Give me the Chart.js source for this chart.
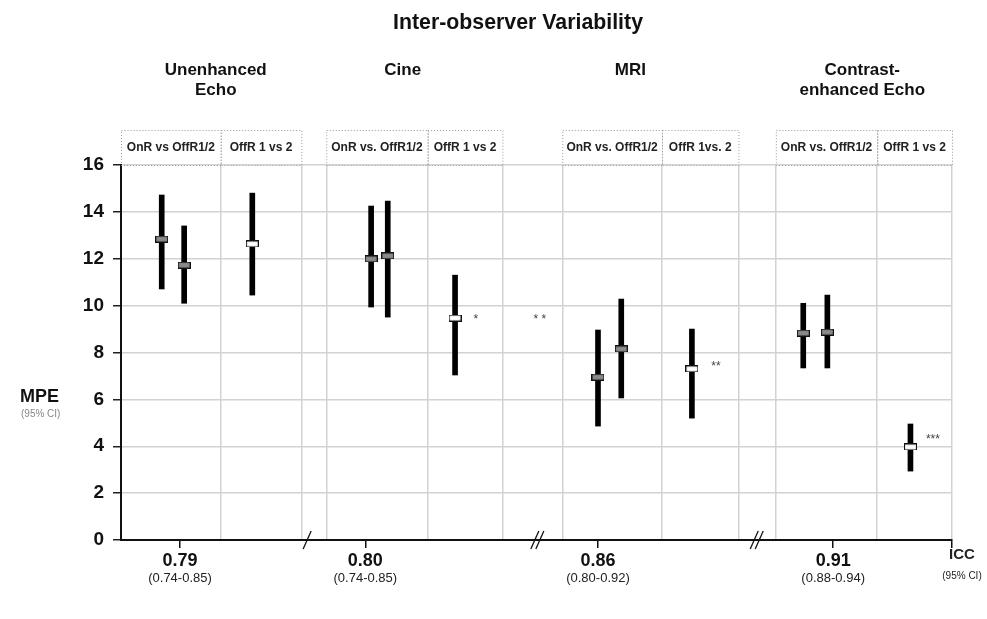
<!DOCTYPE html>
<html>
<head>
<meta charset="utf-8">
<script src="https://cdn.jsdelivr.net/npm/chart.js@4.4.1/dist/chart.umd.min.js"></script>
<style>
  html, body { margin: 0; padding: 0; background: #fff; }
  #wrap { width: 987px; height: 619px; }
</style>
</head>
<body>
<div id="wrap"><canvas id="chart" width="987" height="619"></canvas></div>
<script>
// ---- data ----
const chartTitle = 'Inter-observer Variability';
const groupLabels = [['Unenhanced', 'Echo'], ['Cine'], ['MRI'], ['Contrast-', 'enhanced Echo']];
const groupCenters = [11.4, 33.9, 61.3, 89.2];

// column boundaries (x units, 0..100 across the plot)
const columnEdges = [0, 12.0, 21.7, 24.7, 36.9, 45.9, 53.1, 65.1, 74.3, 78.8, 91.0, 100];
const headerFrom = [0, 12.0, 24.7, 36.9, 53.1, 65.1, 78.8, 91.0];
const headerTo   = [12.0, 21.7, 36.9, 45.9, 65.1, 74.3, 91.0, 100];
const headerText = ['OnR vs OffR1/2', 'OffR 1 vs 2', 'OnR vs. OffR1/2', 'OffR 1 vs 2',
                    'OnR vs. OffR1/2', 'OffR 1vs. 2', 'OnR vs. OffR1/2', 'OffR 1 vs 2'];

// MPE with 95% CI
const barX    = [4.9, 7.6, 15.8, 30.1, 32.1, 40.2, 57.4, 60.2, 68.7, 82.1, 85.0, 95.0];
const mpeMean = [12.84, 11.73, 12.63, 11.99, 12.12, 9.47, 6.95, 8.15, 7.30, 8.83, 8.87, 3.97];
const ciLow   = [10.71, 10.10, 10.45, 9.94, 9.51, 7.04, 4.86, 6.06, 5.20, 7.34, 7.34, 2.94];
const ciHigh  = [14.72, 13.40, 14.80, 14.25, 14.46, 11.30, 8.96, 10.28, 9.00, 10.10, 10.45, 4.95];
const whiteMarker = [false, false, true, false, false, true, false, false, true, false, false, true];

// significance marks
const starX = [42.7, 50.4, 71.6, 97.7];
const starY = [9.47, 9.5, 7.5, 4.35];
const starText = ['*', '* *', '**', '***'];

// ICC along the bottom
const iccX = [7.1, 29.4, 57.4, 85.7];
const iccValue = ['0.79', '0.80', '0.86', '0.91'];
const iccCI = ['(0.74-0.85)', '(0.74-0.85)', '(0.80-0.92)', '(0.88-0.94)'];

// axis breaks
const breakX = [22.4, 50.1, 76.5];
const breakCount = [1, 2, 2];

const yTicks = [0, 2, 4, 6, 8, 10, 12, 14, 16];

/* ============================================================
   Marker images
   ============================================================ */
function makeMarker(fill) {
    const c = document.createElement('canvas');
    c.width = 13; c.height = 7;
    const g = c.getContext('2d');
    g.fillStyle = fill;
    g.fillRect(0.5, 0.5, 12, 6);
    g.strokeStyle = '#111';
    g.lineWidth = 1.2;
    g.strokeRect(0.5, 0.5, 12, 6);
    return c;
}
const grayMark = makeMarker('#8a8a8a');
const whiteMark = makeMarker('#ffffff');

const FONT = '"Liberation Sans", Arial, sans-serif';

// draw text squeezed to a given width
function fitText(g, text, x, y, width) {
    const w = g.measureText(text).width;
    g.save();
    g.translate(x, y);
    g.scale(Math.min(1, width / w), 1);
    g.fillText(text, 0, 0);
    g.restore();
}

/* ============================================================
   Extra drawing: titles, headers, stars, breaks, ICC
   ============================================================ */
const decorations = {
    id: 'decorations',
    afterDraw(chart) {
        const g = chart.ctx;
        const xs = chart.scales.x;
        const ys = chart.scales.y;
        const area = chart.chartArea;
        g.save();

        // title
        g.fillStyle = '#111';
        g.textAlign = 'center';
        g.textBaseline = 'middle';
        g.font = 'bold 22px ' + FONT;
        fitText(g, chartTitle, 518, 23, 250);

        // group labels
        g.font = 'bold 17px ' + FONT;
        groupLabels.forEach((lines, i) => {
            lines.forEach((t, j) => fitText(g, t, xs.getPixelForValue(groupCenters[i]), 70 + j * 20, 130));
        });

        // header boxes
        g.setLineDash([1, 2]);
        g.strokeStyle = '#999';
        g.lineWidth = 1;
        g.font = 'bold 12px ' + FONT;
        g.fillStyle = '#222';
        headerText.forEach((t, i) => {
            const x1 = xs.getPixelForValue(headerFrom[i]);
            const x2 = xs.getPixelForValue(headerTo[i]);
            g.strokeRect(x1 + 0.5, 130.5, x2 - x1, area.top - 130);
            fitText(g, t, (x1 + x2) / 2, 148, x2 - x1 - 8);
        });
        g.setLineDash([]);

        // stars
        g.font = '12px ' + FONT;
        g.fillStyle = '#444';
        starText.forEach((t, i) => {
            g.fillText(t, xs.getPixelForValue(starX[i]), ys.getPixelForValue(starY[i]) + 2);
        });

        // axis breaks
        g.strokeStyle = '#111';
        g.lineWidth = 1.3;
        breakX.forEach((v, i) => {
            const px = xs.getPixelForValue(v);
            for (let k = 0; k < breakCount[i]; k++) {
                const off = (k - (breakCount[i] - 1) / 2) * 5;
                g.beginPath();
                g.moveTo(px + off - 4, area.bottom + 9);
                g.lineTo(px + off + 4, area.bottom - 9);
                g.stroke();
            }
        });

        // ICC confidence intervals
        g.fillStyle = '#222';
        g.font = '13px ' + FONT;
        iccX.forEach((v, i) => g.fillText(iccCI[i], xs.getPixelForValue(v), 578));
        g.font = 'bold 15px ' + FONT;
        fitText(g, 'ICC', 962, 555, 27);
        g.font = '10px ' + FONT;
        g.fillText('(95% CI)', 962, 576);

        // y axis label
        g.textAlign = 'left';
        g.font = 'bold 18px ' + FONT;
        g.fillStyle = '#111';
        g.fillText('MPE', 20, 397);
        g.font = '10px ' + FONT;
        g.fillStyle = '#888';
        g.fillText('(95% CI)', 21, 414);

        g.restore();
    }
};

/* ============================================================
   Chart
   ============================================================ */
const ctx = document.getElementById('chart').getContext('2d');
new Chart(ctx, {
    type: 'scatter',
    data: {
        datasets: [
            {
                type: 'bar',
                data: barX.map((x, i) => ({ x: x, y: [ciLow[i], ciHigh[i]] })),
                backgroundColor: '#000',
                barThickness: 5,
                xAxisID: 'x',
                order: 2
            },
            {
                type: 'scatter',
                data: barX.map((x, i) => ({ x: x, y: mpeMean[i] })),
                pointStyle: c => whiteMarker[c.dataIndex] ? whiteMark : grayMark,
                xAxisID: 'x',
                order: 1
            }
        ]
    },
    options: {
        responsive: false,
        animation: false,
        events: [],
        layout: { padding: { top: 165, right: 35, left: 0, bottom: 0 } },
        plugins: {
            legend: { display: false },
            tooltip: { enabled: false }
        },
        scales: {
            x: {
                type: 'linear',
                position: 'top',
                min: 0, max: 100,
                offset: false,
                afterBuildTicks: s => { s.ticks = columnEdges.map(v => ({ value: v })); },
                afterFit: s => { s.height = 0; },
                grid: { color: '#d2d2d2', lineWidth: 1.5, drawTicks: false, offset: false },
                border: { display: false },
                ticks: { display: false }
            },
            x2: {
                type: 'linear',
                position: 'bottom',
                min: 0, max: 100,
                offset: false,
                afterBuildTicks: s => { s.ticks = iccX.concat([100]).map(v => ({ value: v })); },
                afterFit: s => { s.height = 79; },
                grid: { drawOnChartArea: false, tickLength: 8, tickColor: '#111', lineWidth: 1.5 },
                border: { color: '#111', width: 2 },
                ticks: {
                    autoSkip: false,
                    maxRotation: 0,
                    padding: 2,
                    color: '#111',
                    font: { family: FONT, size: 18, weight: 'bold' },
                    callback: (v, i) => iccValue[i] || ''
                }
            },
            y: {
                type: 'linear',
                min: 0, max: 16,
                afterBuildTicks: s => { s.ticks = yTicks.map(v => ({ value: v })); },
                afterFit: s => { s.width = 121; },
                grid: { color: '#d2d2d2', lineWidth: 1.5, tickColor: '#222', tickLength: 8 },
                border: { color: '#111', width: 2 },
                ticks: {
                    padding: 9,
                    color: '#111',
                    font: { family: FONT, size: 19, weight: 'bold' }
                }
            }
        }
    },
    plugins: [decorations]
});
</script>
</body>
</html>
